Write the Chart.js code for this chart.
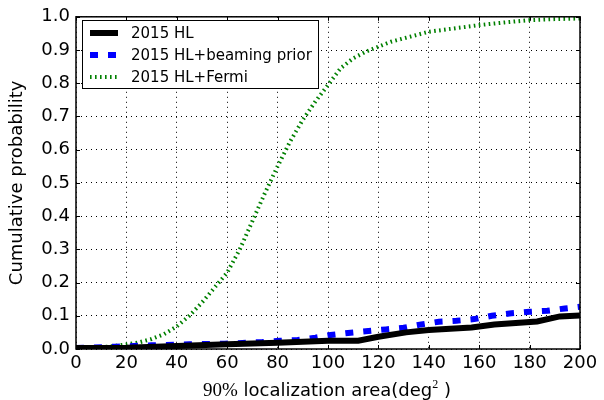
<!DOCTYPE html>
<html>
<head>
<meta charset="utf-8">
<script src="https://cdn.jsdelivr.net/npm/chart.js@4/dist/chart.umd.min.js"></script>
<style>
  html, body { margin: 0; padding: 0; background: #fff; }
  #wrap { width: 604px; height: 400px; }
</style>
</head>
<body>
<div id="wrap"><canvas id="myChart" width="604" height="400"></canvas></div>
<script>
// values
var hlArea = [0, 20, 40, 60, 80, 100, 112, 120, 131, 140, 157, 166, 183, 192, 200];
var hlProb = [0.003, 0.004, 0.009, 0.014, 0.019, 0.025, 0.025, 0.037, 0.050, 0.057, 0.065, 0.074, 0.083, 0.098, 0.101];

var beamArea = [0, 16, 30, 45, 59, 66, 74, 81, 88, 95, 101, 109, 116, 123, 130, 137, 144, 151, 158, 165, 172, 180, 187, 194, 200];
var beamProb = [0.003, 0.007, 0.011, 0.014, 0.016, 0.018, 0.021, 0.025, 0.027, 0.034, 0.042, 0.049, 0.054, 0.059, 0.064, 0.074, 0.082, 0.085, 0.090, 0.100, 0.107, 0.112, 0.115, 0.122, 0.127];

var fermiArea = [0, 5, 10, 15, 20, 25, 30, 35, 40, 45, 50, 55, 60, 65, 70, 75, 80, 85, 90, 95, 100, 105, 110, 115, 120, 125, 130, 140, 150, 160, 170, 180, 190, 200];
var fermiProb = [0.000, 0.002, 0.005, 0.009, 0.014, 0.020, 0.030, 0.045, 0.068, 0.100, 0.140, 0.185, 0.230, 0.300, 0.385, 0.470, 0.550, 0.625, 0.690, 0.745, 0.795, 0.845, 0.875, 0.895, 0.910, 0.925, 0.935, 0.955, 0.965, 0.975, 0.983, 0.990, 0.993, 0.995];

var seriesLabels = ['2015 HL', '2015 HL+beaming prior', '2015 HL+Fermi'];
var xTicks = [0, 20, 40, 60, 80, 100, 120, 140, 160, 180, 200];
var yTicks = [0.0, 0.1, 0.2, 0.3, 0.4, 0.5, 0.6, 0.7, 0.8, 0.9, 1.0];

var FONT = 'DejaVu Sans';

function toPoints(xs, ys) {
    return xs.map(function(x, i) { return {x: x, y: ys[i]}; });
}

// frame, inward ticks, the boxed legend and the mixed-font x title (matplotlib look)
var mplFrame = {
    id: 'mplFrame',
    afterDatasetsDraw: function(chart) {
        var ctx = chart.ctx;
        var a = chart.chartArea;
        var xs = chart.scales.x, ys = chart.scales.y;
        ctx.save();
        ctx.strokeStyle = '#000';
        ctx.lineWidth = 1;
        ctx.setLineDash([]);
        ctx.beginPath();
        xTicks.forEach(function(v) {
            var px = Math.round(xs.getPixelForValue(v)) + 0.5;
            ctx.moveTo(px, a.bottom); ctx.lineTo(px, a.bottom - 4);
            ctx.moveTo(px, a.top); ctx.lineTo(px, a.top + 4);
        });
        yTicks.forEach(function(v) {
            var py = Math.round(ys.getPixelForValue(v)) + 0.5;
            ctx.moveTo(a.left, py); ctx.lineTo(a.left + 4, py);
            ctx.moveTo(a.right, py); ctx.lineTo(a.right - 4, py);
        });
        ctx.stroke();
        ctx.lineWidth = 1.5;
        ctx.strokeRect(a.left, a.top, a.right - a.left, a.bottom - a.top);

        // legend box
        var bx = 82, by = 20, bw = 236, bh = 68;
        ctx.fillStyle = '#fff';
        ctx.fillRect(bx, by, bw, bh);
        ctx.lineWidth = 1;
        ctx.strokeRect(bx + 0.5, by + 0.5, bw, bh);
        ctx.font = '15px "' + FONT + '"';
        ctx.textBaseline = 'middle';
        chart.data.datasets.forEach(function(ds, i) {
            var y = 33 + i * 22;
            ctx.strokeStyle = ds.borderColor;
            ctx.lineWidth = ds.borderWidth;
            ctx.lineCap = 'butt';
            ctx.setLineDash(ds.borderDash || []);
            ctx.beginPath();
            ctx.moveTo(90, y); ctx.lineTo(118, y);
            ctx.stroke();
            ctx.setLineDash([]);
            ctx.fillStyle = '#000';
            ctx.fillText(ds.label, 131, y + 1);
        });

        // x title: "90%" in a serif (mathtext) face, superscript 2
        var parts = [
            {t: '90%', f: '19px "Liberation Serif"', dy: 0},
            {t: ' localization area(deg', f: '18px "' + FONT + '"', dy: 0},
            {t: '2', f: '12px "Liberation Serif"', dy: -8},
            {t: ' )', f: '18px "' + FONT + '"', dy: 0}
        ];
        var total = 0;
        parts.forEach(function(p) { ctx.font = p.f; p.w = ctx.measureText(p.t).width; total += p.w; });
        var x = (a.left + a.right) / 2 - total / 2 - 1;
        ctx.textBaseline = 'alphabetic';
        ctx.textAlign = 'left';
        ctx.fillStyle = '#000';
        parts.forEach(function(p) {
            ctx.font = p.f;
            ctx.fillText(p.t, x, 396 + p.dy);
            x += p.w;
        });
        ctx.restore();
    }
};

var chart = new Chart('myChart', {
    type: 'line',
    data: {
        datasets: [
            {
                label: seriesLabels[0],
                data: toPoints(hlArea, hlProb),
                borderColor: '#000000',
                borderWidth: 6,
                fill: false
            },
            {
                label: seriesLabels[1],
                data: toPoints(beamArea, beamProb),
                borderColor: '#0000ff',
                borderWidth: 6,
                borderDash: [8, 10],
                fill: false
            },
            {
                label: seriesLabels[2],
                data: toPoints(fermiArea, fermiProb),
                borderColor: '#008000',
                borderWidth: 4,
                borderDash: [1.6, 3.4],
                fill: false
            }
        ]
    },
    options: {
        responsive: false,
        animation: false,
        events: [],
        layout: { padding: { top: 13, right: 24, left: 0, bottom: 0 } },
        elements: { point: { radius: 0 }, line: { tension: 0, borderCapStyle: 'butt' } },
        plugins: { legend: { display: false }, tooltip: { enabled: false } },
        scales: {
            x: {
                type: 'linear',
                min: 0, max: 200,
                afterBuildTicks: function(s) { s.ticks = xTicks.map(function(v) { return {value: v}; }); },
                afterFit: function(s) { s.height = 51; },
                grid: { color: '#000', lineWidth: 1, drawTicks: false },
                // in v4 the dash of the grid lines sits under border
                border: { display: false, dash: [1, 4] },
                ticks: { color: '#000', padding: 4, font: { family: FONT, size: 18 }, maxRotation: 0 },
                title: { display: false }
            },
            y: {
                min: 0, max: 1,
                afterBuildTicks: function(s) { s.ticks = yTicks.map(function(v) { return {value: v}; }); },
                afterFit: function(s) { s.width = 76; },
                grid: { color: '#000', lineWidth: 1, drawTicks: false },
                border: { display: false, dash: [1, 4] },
                ticks: {
                    color: '#000', padding: 6,
                    font: { family: FONT, size: 18 },
                    callback: function(v) { return v.toFixed(1); }
                },
                title: {
                    display: true,
                    text: 'Cumulative probability',
                    color: '#000',
                    font: { family: FONT, size: 18 },
                    padding: { top: 7, bottom: 0 }
                }
            }
        }
    },
    plugins: [mplFrame]
});
</script>
</body>
</html>
